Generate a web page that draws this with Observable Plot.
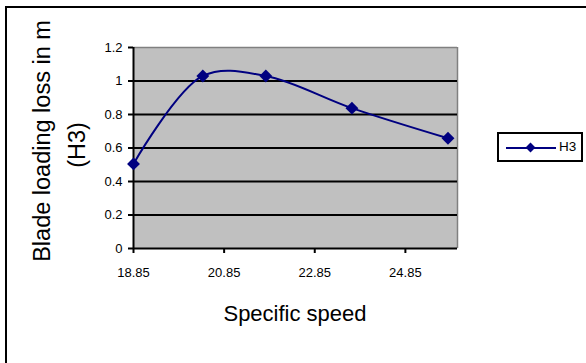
<!DOCTYPE html>
<html><head><meta charset="utf-8">
<script src="https://cdn.jsdelivr.net/npm/d3@7"></script>
<script src="https://cdn.jsdelivr.net/npm/@observablehq/plot@0.6"></script>
<style>
html,body{margin:0;padding:0;background:#fff;overflow:hidden;}
#wrap{position:relative;width:586px;height:363px;overflow:hidden;font-family:"Liberation Sans",Arial,sans-serif;color:#000;}
#frame{position:absolute;left:5px;top:6px;width:640px;height:420px;border:2px solid #000;box-sizing:border-box;}
#chart{position:absolute;left:0;top:0;}
.ytitle{position:absolute;white-space:nowrap;font-size:23.5px;line-height:1;transform:translate(-50%,-50%) rotate(-90deg);}
#xtitle{position:absolute;white-space:nowrap;font-size:22px;line-height:1;transform:translate(-50%,0);left:295px;top:303px;}
#legend{position:absolute;left:497px;top:132px;width:86px;height:30px;border:2px solid #000;box-sizing:border-box;background:#fff;}
#legend .ln{position:absolute;left:7px;top:13px;width:50px;height:2px;background:#000080;}
#legend .mk{position:absolute;left:28px;top:10px;width:7px;height:7px;background:#000080;transform:rotate(45deg);}
#legend .tx{position:absolute;left:60px;top:6px;font-size:13.5px;line-height:1;}
</style></head>
<body>
<div id="wrap">
  <div id="frame"></div>
  <div id="chart"></div>
  <div class="ytitle" id="yt1" style="left:43px;top:141px;">Blade loading loss in m</div>
  <div class="ytitle" id="yt2" style="left:78px;top:145px;">(H3)</div>
  <div id="xtitle">Specific speed</div>
  <div id="legend"><div class="ln"></div><div class="mk"></div><div class="tx">H3</div></div>
</div>
<script>
const seriesName = "H3";
const specificSpeed = [18.85, 20.38, 21.77, 23.67, 25.79];
const bladeLoss = [0.505, 1.03, 1.03, 0.838, 0.658];
const xTicks = [18.85, 20.85, 22.85, 24.85];
const yTicks = [0, 0.2, 0.4, 0.6, 0.8, 1, 1.2];
const xDomain = [18.85, 26];
const yDomain = [0, 1.2];

const data = specificSpeed.map((x, i) => ({x, y: bladeLoss[i], series: seriesName}));
const navy = "#000080";

const chart = Plot.plot({
  width: 586,
  height: 363,
  marginLeft: 133,
  marginRight: 129,
  marginTop: 47,
  marginBottom: 115,
  style: {fontFamily: "'Liberation Sans', Arial, sans-serif", background: "transparent", overflow: "visible"},
  x: {domain: xDomain, axis: null},
  y: {domain: yDomain, axis: null},
  marks: [
    Plot.frame({fill: "#c0c0c0", stroke: "none"}),
    Plot.ruleY([yDomain[1]], {stroke: "#808080", strokeWidth: 1.5}),
    Plot.ruleX([xDomain[1]], {stroke: "#808080", strokeWidth: 1.5}),
    Plot.ruleY(yTicks.filter(d => d > 0 && d < yDomain[1]), {stroke: "#000", strokeWidth: 2}),
    Plot.ruleX([xDomain[0]], {stroke: "#000", strokeWidth: 2}),
    Plot.ruleY([0], {stroke: "#000", strokeWidth: 2}),
    Plot.axisX({ticks: xTicks, tickSize: 5, tickPadding: 14, tickFormat: d => d.toFixed(2), fontSize: 13, stroke: "#000", strokeWidth: 2, label: null}),
    Plot.axisY({ticks: yTicks, tickSize: 5, tickPadding: 6, tickFormat: d => String(+d.toFixed(1)), fontSize: 13, stroke: "#000", strokeWidth: 2, label: null}),
    Plot.line(data, {x: "x", y: "y", curve: "catmull-rom", stroke: navy, strokeWidth: 2}),
    Plot.dot(data, {x: "x", y: "y", symbol: "diamond2", r: 5.8, fill: navy, stroke: "none"})
  ]
});
document.getElementById("chart").appendChild(chart);
</script>
</body></html>
